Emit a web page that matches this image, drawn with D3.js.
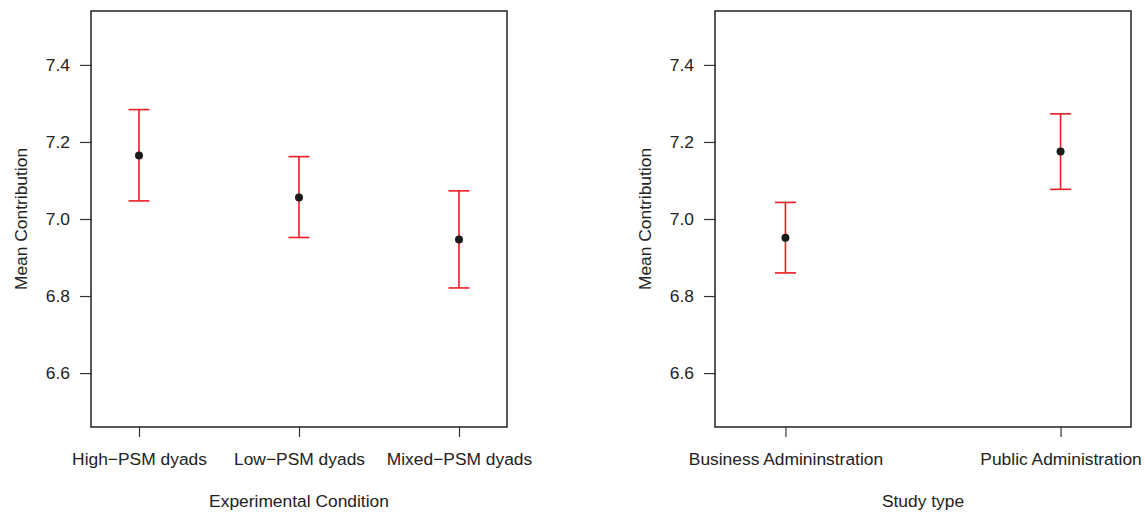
<!DOCTYPE html>
<html>
<head>
<meta charset="utf-8">
<script src="https://cdn.jsdelivr.net/npm/d3@7"></script>
<style>
  body { margin: 0; background: #fff; }
  svg text { font-family: "Liberation Sans", Arial, Helvetica, sans-serif; fill: #222; }
</style>
</head>
<body>
<svg id="chart" width="1145" height="514"></svg>
<script>
// data
const yTicks = [6.6, 6.8, 7.0, 7.2, 7.4]

const condCategories = ['High\u2212PSM dyads', 'Low\u2212PSM dyads', 'Mixed\u2212PSM dyads']
const condMean = [7.165, 7.056, 6.947]
const condLower = [7.047, 6.952, 6.821]
const condUpper = [7.284, 7.162, 7.073]

const studyCategories = ['Business Admininstration', 'Public Administration']
const studyMean = [6.951, 7.175]
const studyLower = [6.860, 7.077]
const studyUpper = [7.043, 7.273]

const svg = d3.select('#chart')
const fontSize = 17.4
const redColor = '#ec1c24'

function meansPanel (opts) {
  let left = opts.left
  let right = left + 416
  let top = 11
  let bottom = 427

  let x = d3.scalePoint()
      .domain(opts.categories)
      .range([left, right])
      .padding(opts.padding)

  let y = d3.scaleLinear()
      .domain([6.46, 7.54])
      .range([bottom, top])

  let g = svg.append('g').attr('class', 'panel')

  // y axis
  let yAxis = d3.axisLeft(y)
      .tickValues(yTicks)
      .tickFormat(d3.format('.1f'))
      .tickSize(11)
      .tickPadding(10)
  let ya = g.append('g')
      .attr('transform', 'translate(' + left + ',0)')
      .call(yAxis)
  ya.select('.domain').remove()
  ya.selectAll('line').attr('stroke', '#333').attr('stroke-width', 1.2)
  ya.selectAll('text').style('font-size', fontSize + 'px').attr('fill', '#222')

  // x axis
  let xAxis = d3.axisBottom(x)
      .tickSize(10)
      .tickPadding(16)
  let xa = g.append('g')
      .attr('transform', 'translate(0,' + bottom + ')')
      .call(xAxis)
  xa.select('.domain').remove()
  xa.selectAll('line').attr('stroke', '#333').attr('stroke-width', 1.2)
  xa.selectAll('text').style('font-size', fontSize + 'px').attr('fill', '#222')

  // box
  g.append('rect')
      .attr('x', left)
      .attr('y', top)
      .attr('width', right - left)
      .attr('height', bottom - top)
      .attr('fill', 'none')
      .attr('stroke', '#222')
      .attr('stroke-width', 1.5)

  let rows = opts.categories.map((c, i) => ({
    cat: c, mean: opts.mean[i], lo: opts.lower[i], hi: opts.upper[i]
  }))

  let bars = g.selectAll('.ci')
      .data(rows)
    .enter().append('g')
      .attr('class', 'ci')

  bars.append('line')
      .attr('x1', d => x(d.cat)).attr('x2', d => x(d.cat))
      .attr('y1', d => y(d.lo)).attr('y2', d => y(d.hi))
      .attr('stroke', redColor).attr('stroke-width', 1.6)
  bars.append('line')
      .attr('x1', d => x(d.cat) - 10.5).attr('x2', d => x(d.cat) + 10.5)
      .attr('y1', d => y(d.hi)).attr('y2', d => y(d.hi))
      .attr('stroke', redColor).attr('stroke-width', 1.6)
  bars.append('line')
      .attr('x1', d => x(d.cat) - 10.5).attr('x2', d => x(d.cat) + 10.5)
      .attr('y1', d => y(d.lo)).attr('y2', d => y(d.lo))
      .attr('stroke', redColor).attr('stroke-width', 1.6)
  bars.append('circle')
      .attr('cx', d => x(d.cat))
      .attr('cy', d => y(d.mean))
      .attr('r', 4)
      .attr('fill', '#1a1a1a')

  // titles
  g.append('text')
      .attr('x', (left + right) / 2)
      .attr('y', 507)
      .attr('text-anchor', 'middle')
      .style('font-size', fontSize + 'px')
      .text(opts.xTitle)

  g.append('text')
      .attr('transform', 'translate(' + (left - 64.5) + ',' + ((top + bottom) / 2) + ') rotate(-90)')
      .attr('text-anchor', 'middle')
      .style('font-size', fontSize + 'px')
      .text('Mean Contribution')
}

meansPanel({
  left: 91,
  padding: 0.3,
  categories: condCategories,
  mean: condMean,
  lower: condLower,
  upper: condUpper,
  xTitle: 'Experimental Condition'
})

meansPanel({
  left: 715,
  padding: 0.256,
  categories: studyCategories,
  mean: studyMean,
  lower: studyLower,
  upper: studyUpper,
  xTitle: 'Study type'
})
</script>
</body>
</html>
